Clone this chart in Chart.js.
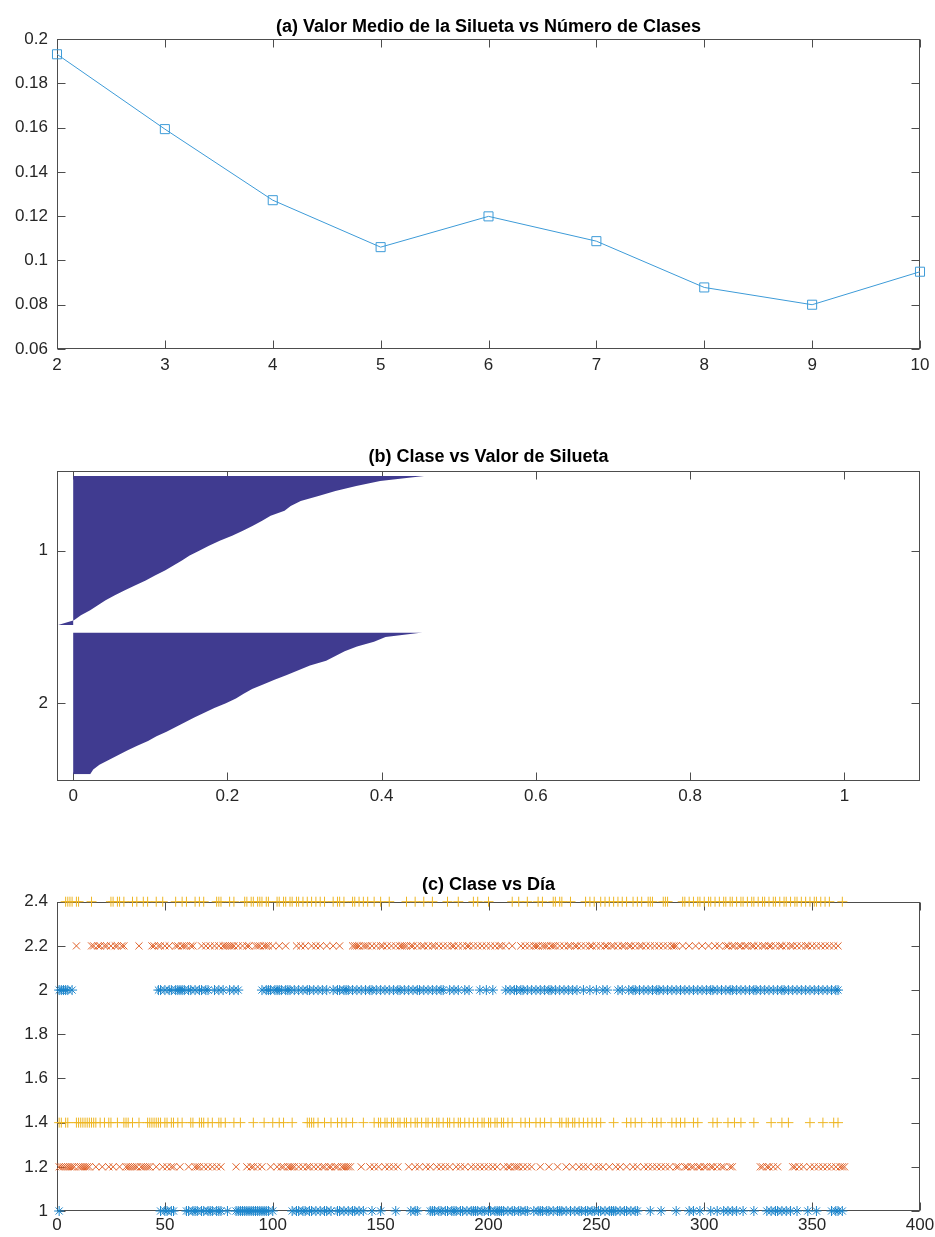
<!DOCTYPE html>
<html>
<head>
<meta charset="utf-8">
<script src="https://cdn.jsdelivr.net/npm/chart.js@4.4.1/dist/chart.umd.min.js"></script>
<style>
  body { margin: 0; background: #fff; }
  canvas { position: absolute; left: 0; }
</style>
</head>
<body>
<canvas id="graficoA" width="935" height="400" style="top:0px"></canvas>
<canvas id="graficoB" width="935" height="420" style="top:400px"></canvas>
<canvas id="graficoC" width="935" height="417" style="top:820px"></canvas>
<script>
// ---- datos (a): silueta media por numero de clases
var numClases = [2, 3, 4, 5, 6, 7, 8, 9, 10];
var siluetaMedia = [0.1931, 0.1593, 0.1272, 0.1060, 0.1199, 0.1087, 0.0878, 0.0800, 0.0949];
var ticksYA = [0.06, 0.08, 0.1, 0.12, 0.14, 0.16, 0.18, 0.2];

// ---- datos (b): perfil de silueta de cada clase, de arriba abajo
var siluetaClase1 = [0.455, 0.398, 0.367, 0.340, 0.318, 0.295, 0.282, 0.274, 0.256, 0.245,
  0.233, 0.220, 0.206, 0.190, 0.176, 0.164, 0.151, 0.141, 0.130, 0.119,
  0.106, 0.094, 0.080, 0.067, 0.054, 0.042, 0.032, 0.022, 0.010, 0.001, -0.020];
var siluetaClase2 = [0.453, 0.405, 0.390, 0.368, 0.352, 0.340, 0.328, 0.307, 0.292, 0.277,
  0.261, 0.247, 0.232, 0.221, 0.211, 0.198, 0.183, 0.170, 0.157, 0.145,
  0.133, 0.121, 0.108, 0.097, 0.083, 0.070, 0.058, 0.046, 0.034, 0.026, 0.022];
var nombresClase = ['1', '2'];
var ticksXB = [0, 0.2, 0.4, 0.6, 0.8, 1];

// ---- datos (c): dias asignados a cada clase
var diasAzul1 = [1, 48, 50, 51, 53, 54, 60, 61, 63, 64, 65, 67, 68, 70, 71, 72, 74, 75, 76, 79,
  83, 84, 85, 86, 87, 88, 89, 90, 91, 92, 93, 94, 95, 96, 97, 98, 100,
  109, 111, 112, 114, 115, 117, 118, 120, 122, 124, 125, 127, 130, 131, 133, 135, 137, 138, 140, 142,
  146, 150, 157, 164, 166, 167, 173, 174, 175, 177, 178, 180, 181, 183, 184, 185, 187, 188, 190, 192,
  193, 194, 195, 197, 198, 200, 201, 203, 204, 205, 206, 207, 209, 211, 212, 214, 215, 217, 218,
  221, 223, 224, 225, 227, 228, 230, 232, 233, 234, 236, 238, 240, 242, 243, 245, 246, 248, 249,
  251, 252, 254, 256, 257, 258, 259, 261, 263, 264, 266, 268, 269, 275, 280, 287, 293, 295, 298,
  303, 306, 309, 311, 313, 315, 318, 323, 329, 331, 333, 334, 336, 338, 340, 343, 348, 352, 359, 361, 362, 364];
var diasAzul2 = [1, 2, 3, 4, 5, 7, 47, 48, 50, 52, 53, 55, 56, 57, 58, 59, 61, 62, 64, 66, 67, 69, 70,
  73, 75, 77, 80, 82, 84, 95, 97, 98, 99, 101, 102, 103, 104, 106, 107, 108, 110, 112, 114, 116, 117,
  119, 121, 123, 125, 128, 130, 131, 133, 134, 135, 137, 139, 141, 143, 145, 146, 148, 150, 152, 154,
  156, 158, 159, 161, 163, 165, 167, 168, 170, 172, 174, 176, 178, 179, 182, 184, 186, 189, 191,
  196, 199, 202, 208, 210, 212, 213, 215, 216, 218, 220, 222, 224, 226, 228, 229, 231, 233, 235,
  237, 239, 241, 244, 247, 250, 253, 255, 260, 262, 265, 267, 268, 270, 272, 274, 276, 278, 279,
  281, 283, 285, 287, 289, 291, 293, 295, 297, 299, 301, 303, 304, 306, 308, 310, 312, 313, 315,
  317, 319, 321, 323, 324, 326, 328, 330, 332, 334, 336, 337, 339, 341, 343, 345, 347, 349, 351,
  353, 355, 357, 359, 361, 362];
var diasNaranja1 = [1, 2, 3, 4, 5, 6, 7, 8, 10, 11, 12, 13, 14, 15, 18, 21, 24, 26, 29, 32, 33, 34,
  35, 36, 37, 39, 40, 41, 42, 43, 46, 49, 51, 53, 54, 57, 61, 64, 65, 66, 68, 70, 72, 74, 76, 83,
  88, 90, 91, 93, 95, 99, 102, 104, 105, 107, 108, 109, 110, 112, 114, 116, 117, 119, 121, 123,
  124, 126, 127, 129, 130, 132, 133, 134, 135, 136, 141, 145, 147, 149, 152, 154, 156, 158, 163,
  166, 168, 171, 173, 176, 178, 180, 182, 185, 187, 189, 192, 194, 196, 198, 200, 202, 204, 207,
  209, 210, 212, 213, 214, 216, 218, 220, 224, 228, 232, 236, 239, 242, 244, 246, 249, 251, 253,
  256, 259, 261, 264, 267, 269, 272, 274, 276, 278, 280, 282, 284, 287, 288, 291, 292, 294, 295,
  297, 298, 300, 301, 303, 304, 306, 308, 309, 312, 313, 326, 327, 329, 330, 332, 334, 341, 342,
  344, 346, 349, 351, 353, 355, 357, 359, 361, 363, 364, 365];
var diasNaranja2 = [9, 16, 17, 19, 20, 22, 23, 25, 27, 28, 30, 31, 38, 44, 45, 47, 48, 50, 52, 55,
  56, 58, 59, 60, 62, 63, 67, 69, 71, 73, 75, 77, 78, 79, 80, 81, 82, 84, 86, 88, 89, 92, 93, 94,
  96, 97, 98, 100, 103, 106, 111, 113, 115, 118, 120, 122, 125, 128, 131, 137, 138, 139, 140, 142,
  143, 144, 146, 148, 150, 151, 153, 155, 157, 159, 160, 161, 162, 164, 165, 167, 169, 170, 172,
  174, 175, 177, 179, 181, 183, 184, 186, 188, 190, 191, 193, 195, 197, 199, 201, 203, 205, 206,
  208, 211, 215, 217, 219, 221, 222, 223, 225, 226, 227, 229, 230, 231, 233, 235, 237, 238, 240,
  241, 243, 245, 247, 248, 250, 252, 254, 255, 257, 258, 260, 262, 263, 265, 266, 268, 270, 271,
  273, 275, 277, 279, 281, 283, 285, 286, 287, 290, 293, 296, 299, 302, 305, 307, 310, 311, 313,
  314, 316, 317, 319, 320, 322, 323, 325, 327, 328, 330, 331, 333, 335, 336, 338, 340, 341, 343,
  345, 347, 348, 350, 352, 354, 356, 358, 360, 362];
var diasAmarillo1 = [1, 2, 4, 5, 9, 10, 11, 12, 13, 14, 15, 16, 17, 18, 20, 22, 24, 25, 28, 31, 32,
  33, 35, 38, 42, 43, 44, 45, 46, 47, 48, 50, 51, 53, 54, 56, 58, 62, 63, 66, 67, 68, 70, 72, 75,
  76, 78, 82, 85, 91, 96, 100, 103, 105, 109, 116, 117, 118, 119, 121, 124, 127, 130, 132, 134,
  137, 142, 147, 149, 150, 152, 153, 155, 156, 158, 159, 161, 162, 164, 166, 167, 169, 171, 172,
  174, 176, 177, 179, 181, 182, 184, 186, 187, 189, 191, 193, 195, 197, 198, 200, 201, 203, 204,
  206, 207, 209, 211, 215, 217, 219, 222, 224, 226, 229, 233, 234, 236, 237, 239, 240, 242, 244,
  246, 248, 250, 252, 258, 264, 266, 268, 271, 276, 278, 280, 285, 287, 289, 291, 295, 297, 304,
  306, 311, 314, 317, 323, 331, 336, 339, 349, 355, 360, 362];
var diasAmarillo2 = [4, 5, 6, 7, 9, 10, 16, 25, 26, 28, 29, 31, 35, 37, 40, 42, 46, 49, 55, 58,
  60, 64, 66, 68, 74, 75, 76, 80, 82, 87, 88, 90, 91, 93, 94, 95, 97, 98, 102, 103, 105, 106, 108,
  109, 111, 112, 114, 116, 118, 120, 122, 124, 128, 130, 131, 133, 137, 138, 140, 142, 144, 147,
  150, 154, 162, 166, 170, 174, 181, 186, 193, 195, 200, 211, 214, 218, 223, 225, 230, 231, 233,
  234, 238, 245, 247, 249, 252, 254, 256, 258, 260, 262, 264, 267, 269, 271, 274, 275, 276, 281,
  282, 283, 290, 291, 293, 295, 297, 298, 300, 302, 303, 305, 307, 309, 310, 312, 313, 315, 317,
  318, 320, 322, 323, 325, 327, 328, 330, 332, 333, 335, 337, 338, 340, 342, 343, 345, 347, 349,
  351, 352, 354, 356, 358, 364];
var nivelAzul = [1, 2];
var nivelNaranja = [1.2, 2.2];
var nivelAmarillo = [1.4, 2.4];
var ticksXC = [0, 50, 100, 150, 200, 250, 300, 350, 400];
var ticksYC = [1, 1.2, 1.4, 1.6, 1.8, 2, 2.2, 2.4];

var azul = '#1a84cb', naranja = '#e0622a', amarillo = '#eeb624', morado = '#403b90';

Chart.defaults.font.family = "'Liberation Sans', Arial, Helvetica, sans-serif";
Chart.defaults.font.size = 17;
Chart.defaults.color = '#262626';
Chart.defaults.animation = false;

// caja con marcas hacia dentro en los cuatro lados
var marco = {
    id: 'marco',
    beforeDatasetsDraw: function (chart) {
        var ctx = chart.ctx, a = chart.chartArea;
        var l = Math.round(a.left) + 0.5, r = Math.round(a.right) - 0.5;
        var t = Math.round(a.top) + 0.5, b = Math.round(a.bottom) - 0.5;
        var sx = chart.scales.x, sy = chart.scales.y;
        ctx.save();
        ctx.strokeStyle = '#4d4d4d';
        ctx.lineWidth = 1;
        ctx.strokeRect(l, t, r - l, b - t);
        ctx.beginPath();
        sx.ticks.forEach(function (tk) {
            var p = Math.round(sx.getPixelForValue(tk.value)) + 0.5;
            ctx.moveTo(p, b); ctx.lineTo(p, b - 8);
            ctx.moveTo(p, t); ctx.lineTo(p, t + 8);
        });
        sy.ticks.forEach(function (tk) {
            var p = Math.round(sy.getPixelForValue(tk.value)) + 0.5;
            ctx.moveTo(l, p); ctx.lineTo(l + 8, p);
            ctx.moveTo(r, p); ctx.lineTo(r - 8, p);
        });
        ctx.stroke();
        ctx.restore();
    }
};

function ejeX(min, max, ticks, alto, pad, fmt) {
    return {
        type: 'linear', min: min, max: max, offset: false,
        grid: { display: false, drawTicks: false }, border: { display: false },
        ticks: { padding: pad, autoSkip: false, maxRotation: 0, callback: fmt || function (v) { return String(v); } },
        afterBuildTicks: function (s) { s.ticks = ticks.map(function (v) { return { value: v }; }); },
        afterFit: function (s) { s.height = alto; s.paddingLeft = 0; s.paddingRight = 0; }
    };
}

function ejeY(min, max, ticks, fmt, reverse) {
    return {
        type: 'linear', min: min, max: max, offset: false, reverse: !!reverse,
        grid: { display: false, drawTicks: false }, border: { display: false },
        ticks: { padding: 9, autoSkip: false, callback: fmt || function (v) { return String(v); } },
        afterBuildTicks: function (s) { s.ticks = ticks.map(function (v) { return { value: v }; }); },
        afterFit: function (s) { s.width = 57; s.paddingTop = 0; s.paddingBottom = 0; }
    };
}

function titulo(texto, arriba, abajo) {
    return {
        display: true, text: texto, fullSize: false, color: '#000',
        font: { size: 18, weight: 'bold' },
        padding: { top: arriba, bottom: abajo }
    };
}

/*---------------------------(a)------------------------*/

new Chart($id('graficoA'), {
    type: 'line',
    data: {
        datasets: [{
            data: numClases.map(function (k, i) { return { x: k, y: siluetaMedia[i] }; }),
            borderColor: '#3d9bd8',
            borderWidth: 1,
            pointStyle: 'rect',
            pointRadius: 6.4,
            pointBorderWidth: 1,
            pointBorderColor: '#3d9bd8',
            pointBackgroundColor: 'rgba(0,0,0,0)',
            tension: 0,
            clip: false
        }]
    },
    options: {
        responsive: false,
        layout: { padding: { left: 0, right: 15, top: 0, bottom: 0 } },
        plugins: {
            legend: { display: false },
            tooltip: { enabled: false },
            title: titulo('(a) Valor Medio de la Silueta vs Número de Clases', 16, 1.4)
        },
        scales: {
            x: ejeX(2, 10, numClases, 51, 6),
            y: ejeY(0.06, 0.2, ticksYA)
        }
    },
    plugins: [marco]
});

/*---------------------------(b)------------------------*/

// eje vertical en "puntos": clase 1 ocupa 41, hueco de 2, clase 2 ocupa 39
var tramos = [[0.5, 41.5], [43.5, 82.5]];
function perfil(valores, tramo) {
    var paso = (tramo[1] - tramo[0]) / (valores.length - 1);
    return valores.map(function (v, i) { return { x: v, y: tramo[0] + i * paso }; });
}
var centrosClase = tramos.map(function (t) { return (t[0] + t[1]) / 2; });

new Chart($id('graficoB'), {
    type: 'line',
    data: {
        datasets: [siluetaClase1, siluetaClase2].map(function (vals, k) {
            return {
                data: perfil(vals, tramos[k]),
                backgroundColor: morado,
                borderColor: 'rgba(0,0,0,0)',
                borderWidth: 0,
                pointRadius: 0,
                tension: 0,
                fill: 'origin'
            };
        })
    },
    options: {
        responsive: false,
        indexAxis: 'y',
        layout: { padding: { left: 0, right: 15, top: 0, bottom: 0 } },
        plugins: {
            legend: { display: false },
            tooltip: { enabled: false },
            title: titulo('(b) Clase vs Valor de Silueta', 46.5, 2.9)
        },
        scales: {
            x: ejeX(-0.021, 1.098, ticksXB, 39.3, 5),
            y: ejeY(-0.9, 84.3, centrosClase, function (v) {
                return nombresClase[centrosClase.indexOf(v)];
            }, true)
        }
    },
    plugins: [marco]
});

/*---------------------------(c)------------------------*/

function serie(dias, nivel, color, estilo) {
    return {
        data: dias.map(function (d) { return { x: d, y: nivel }; }),
        pointStyle: estilo,
        pointRadius: 5,
        pointBorderWidth: 1,
        borderColor: color,
        pointBorderColor: color,
        backgroundColor: 'rgba(0,0,0,0)',
        showLine: false,
        clip: false
    };
}

new Chart($id('graficoC'), {
    type: 'scatter',
    data: {
        datasets: [
            serie(diasAzul1, nivelAzul[0], azul, 'star'),
            serie(diasNaranja1, nivelNaranja[0], naranja, 'crossRot'),
            serie(diasAmarillo1, nivelAmarillo[0], amarillo, 'cross'),
            serie(diasAzul2, nivelAzul[1], azul, 'star'),
            serie(diasNaranja2, nivelNaranja[1], naranja, 'crossRot'),
            serie(diasAmarillo2, nivelAmarillo[1], amarillo, 'cross')
        ]
    },
    options: {
        responsive: false,
        layout: { padding: { left: 0, right: 15, top: 0, bottom: 0 } },
        plugins: {
            legend: { display: false },
            tooltip: { enabled: false },
            title: titulo('(c) Clase vs Día', 54.5, 5.6)
        },
        scales: {
            x: ejeX(0, 400, ticksXC, 26, 4),
            y: ejeY(1, 2.4, ticksYC)
        }
    },
    plugins: [marco]
});

function $id(id) { return document.getElementById(id); }
</script>
</body>
</html>
